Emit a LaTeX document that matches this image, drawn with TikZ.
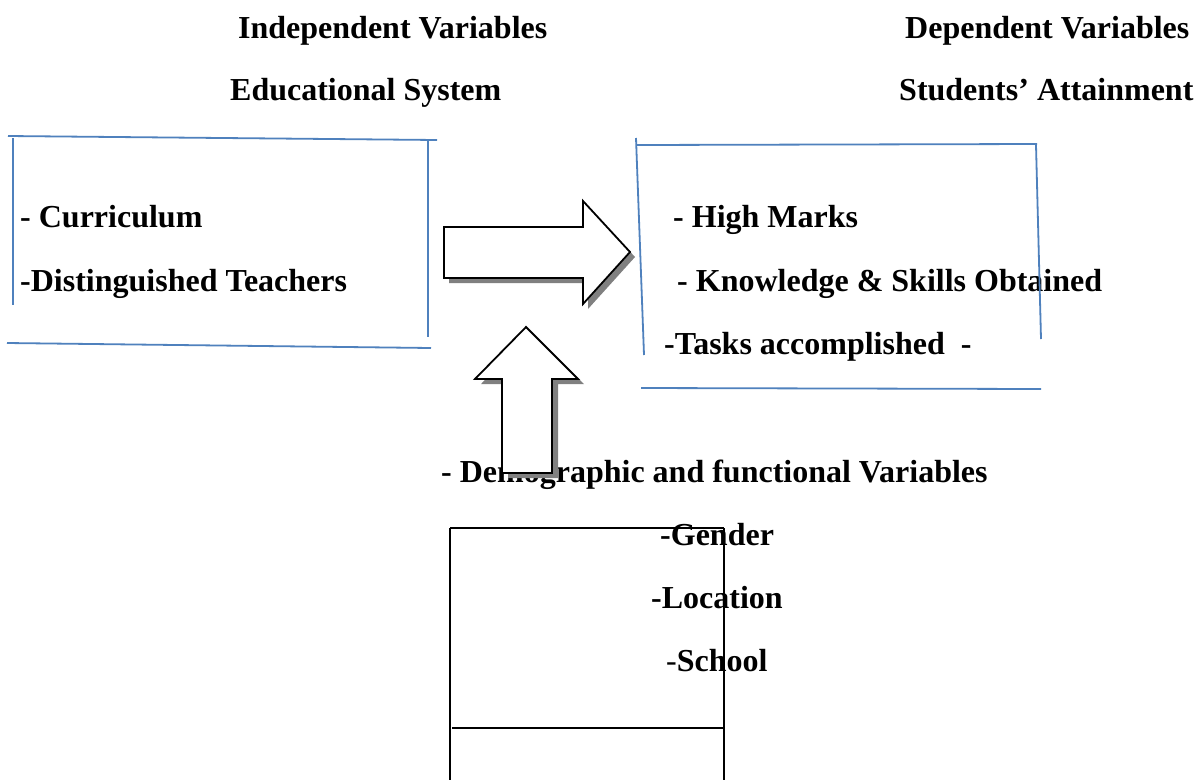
\documentclass[tikz,border=0pt]{standalone}
\usepackage{fontspec}
\setmainfont{Liberation Serif}
\definecolor{wordblue}{RGB}{79,129,189}
\definecolor{shadowgray}{RGB}{128,128,128}
\begin{document}
\begin{tikzpicture}[x=1pt,y=-1pt,
  lbl/.style={anchor=base west,inner sep=0pt,font=\fontsize{32}{38}\selectfont\bfseries},
  blueline/.style={draw=wordblue,line width=1.8pt},
  boxline/.style={draw=black,line width=1.5pt},
  arrowshape/.style={draw=black,fill=white,line width=1.8pt,line join=miter},
  arrowshadow/.style={fill=shadowgray,draw=none}]
\useasboundingbox[fill=white] (0,0) rectangle (1199,780);

% headers
\node[lbl] (indep) at (238,38) {Independent Variables};
\node[lbl] (edu) at (230,100) {Educational System};
\node[lbl] (dep) at (905,38) {Dependent Variables};
\node[lbl] (att) at (899,100) {Students’ Attainment};

% left box text
\node[lbl] (curr) at (20,227) {- Curriculum};
\node[lbl] (teach) at (20,291) {-Distinguished Teachers};

% right box text
\node[lbl] (marks) at (673,227) {- High Marks};
\node[lbl] (know) at (677,291) {- Knowledge \& Skills Obtained};
\node[lbl] (tasks) at (664,354) {-Tasks accomplished\ \ -};

% bottom text
\node[lbl] (demo) at (441,482) {- Demographic and functional Variables};
\node[lbl] (gender) at (660,545) {-Gender};
\node[lbl] (loc) at (651,608) {-Location};
\node[lbl] (school) at (666,671) {{\mdseries -}School};

% left box lines
\draw[blueline] (8,136) -- (437,140);
\draw[blueline] (13,138) -- (13,305);
\draw[blueline] (428,141) -- (428,337);
\draw[blueline] (7,343) -- (431,348);

% right box lines
\draw[blueline] (636,138) -- (644,355);
\draw[blueline] (637,145) -- (1037,144);
\draw[blueline] (1036,145) -- (1041,339);
\draw[blueline] (641,388) -- (1041,389);

% bottom box lines
\draw[boxline] (450,528) -- (724,528);
\draw[boxline] (450,528) -- (450,780);
\draw[boxline] (724,528) -- (724,780);
\draw[boxline] (452,728) -- (725,728);

% right arrow
\begin{scope}[shift={(5,5)}]
\fill[arrowshadow] (444,227) -- (583,227) -- (583,201) -- (630,252) -- (583,304) -- (583,278) -- (444,278) -- cycle;
\end{scope}
\draw[arrowshape] (444,227) -- (583,227) -- (583,201) -- (630,252) -- (583,304) -- (583,278) -- (444,278) -- cycle;

% up arrow
\begin{scope}[shift={(6,5)}]
\fill[arrowshadow] (526,327) -- (578,379) -- (552,379) -- (552,473) -- (502,473) -- (502,379) -- (475,379) -- cycle;
\end{scope}
\draw[arrowshape] (526,327) -- (578,379) -- (552,379) -- (552,473) -- (502,473) -- (502,379) -- (475,379) -- cycle;
\end{tikzpicture}
\end{document}
